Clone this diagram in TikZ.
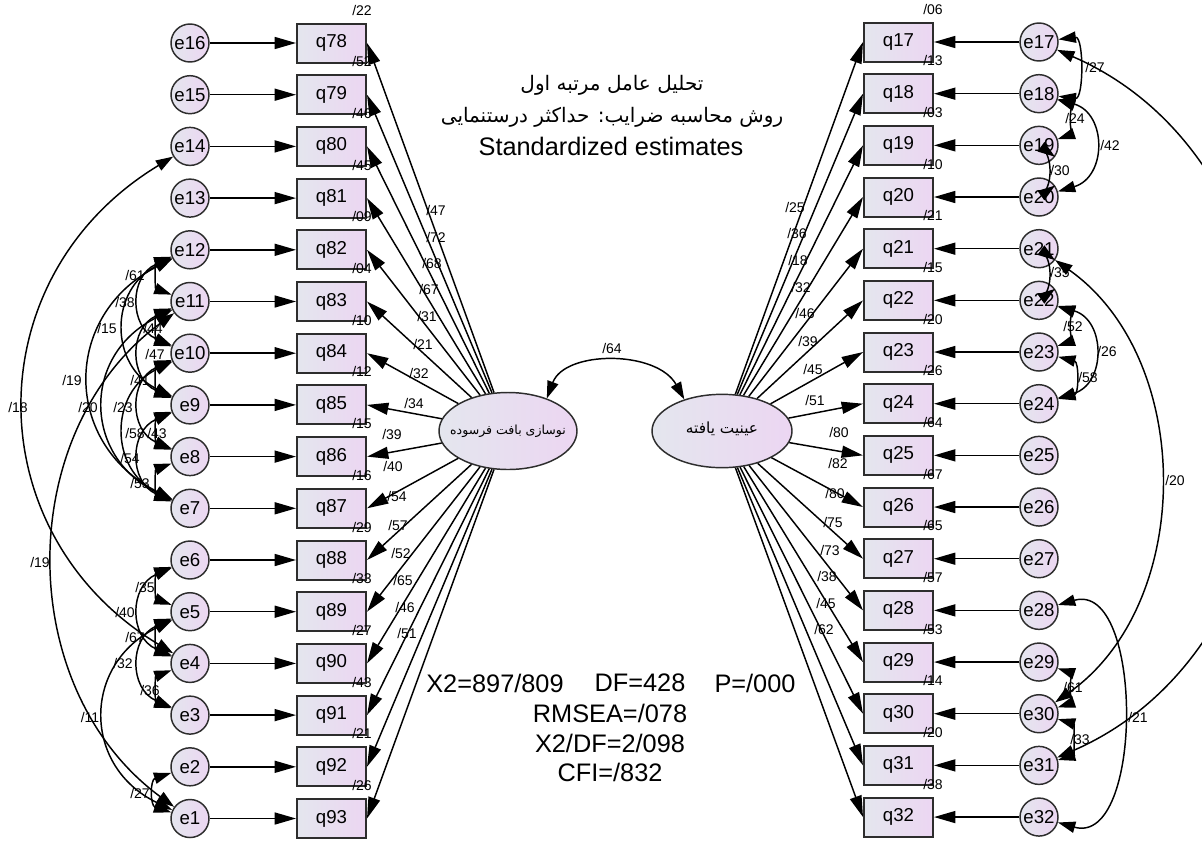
\documentclass[tikz,border=0pt]{standalone}
\usepackage{fontspec}
\setmainfont{Liberation Sans}
\newfontfamily\arabicfont[Script=Arabic]{DejaVu Sans}
\TeXXeTstate=1
\usetikzlibrary{arrows.meta,shapes.geometric,calc}
\definecolor{gL}{RGB}{228,230,238}
\definecolor{gR}{RGB}{236,214,242}
\definecolor{bord}{RGB}{45,45,45}
\tikzset{
 obs/.style={draw=bord, line width=1.5pt, rectangle, minimum width=51.75pt, minimum height=29.25pt, inner sep=0pt, left color=gL, right color=gR, font=\fontsize{14}{14}\selectfont},
 err/.style={draw=bord, line width=1.1pt, circle, minimum size=28.5pt, inner sep=0pt, left color=gL, right color=gR, font=\fontsize{14}{14}\selectfont},
 lat/.style={draw=bord, line width=1.1pt, ellipse, inner sep=0pt, left color=gL, right color=gR},
 lattext/.style={inner sep=0pt, font=\arabicfont},
 reg/.style={-{Triangle[length=16pt,width=9pt]}, line width=1.1pt},
 cov/.style={{Triangle[length=13pt,width=8.5pt]}-{Triangle[length=13pt,width=8.5pt]}, line width=1.1pt},
 lbl/.style={font=\fontsize{10.5}{10.5}\selectfont, inner sep=0pt},
 big/.style={font=\fontsize{19}{19}\selectfont, inner sep=0pt},
 ttl/.style={inner sep=0pt, font=\arabicfont\fontsize{15}{15}\selectfont},
}
\newcommand\lcov[4]{\draw[cov] (#1) .. controls ($(#1)+(-#3,#4)$) and ($(#2)+(-#3,-#4)$) .. (#2);}
\newcommand\rcov[5]{\draw[cov] (#1) .. controls ($(#1)+(#3,#4)$) and ($(#2)+(#3,#5)$) .. (#2);}
\begin{document}
\begin{tikzpicture}[x=0.75pt,y=-0.75pt]
\clip (0,0) rectangle (1202,854);
\fill[white] (0,0) rectangle (1202,854);
% left side
\foreach \i in {0,...,15} {
  \pgfmathtruncatemacro\qn{78+\i}
  \pgfmathtruncatemacro\en{16-\i}
  \pgfmathsetmacro\yy{43+51.7*\i}
  \node[obs] (q\qn) at (331.5,\yy) {q\qn};
  \node[err] (e\en) at (190,\yy) {e\en};
}
% right side
\foreach \i in {0,...,15} {
  \pgfmathtruncatemacro\qn{17+\i}
  \pgfmathsetmacro\yy{42+51.67*\i}
  \node[obs] (q\qn) at (898.5,\yy) {q\qn};
  \node[err] (e\qn) at (1039,\yy) {e\qn};
}
% latent variables
\node[lat, minimum width=103.5pt, minimum height=57.75pt] (L) at (508,431) {};
\node[lat, minimum width=105pt, minimum height=55pt] (R) at (722,431) {};
\node[lattext, font=\arabicfont\fontsize{9.4}{9.4}\selectfont] (Lt) at (508,431) {\beginR نوسازی بافت فرسوده\endR};
\node[lattext, font=\arabicfont\fontsize{11.5}{11.5}\selectfont] (Rt) at (722,429) {\beginR عینیت یافته\endR};
% error arrows and loadings
\foreach \i in {0,...,15} {
  \pgfmathtruncatemacro\qn{78+\i}
  \pgfmathtruncatemacro\en{16-\i}
  \draw[reg] (e\en) -- (q\qn);
  \draw[reg] (L) -- (q\qn.east);
}
\foreach \i in {17,...,32} {
  \draw[reg] (e\i) -- (q\i);
  \draw[reg] (R) -- (q\i.west);
}
% covariance of latents
\draw[cov] (L.40) .. controls (565,350) and (657,350) .. (R.140);
\node[lbl] (c64) at (612,348) {/64};
% left covariances
\lcov{e12}{e11}{35}{13}
\lcov{e11}{e10}{35}{13}
\lcov{e10}{e9}{35}{13}
\lcov{e9}{e8}{35}{13}
\lcov{e8}{e7}{35}{13}
\lcov{e12}{e10}{61}{26}
\lcov{e11}{e9}{61}{26}
\lcov{e10}{e8}{61}{26}
\lcov{e9}{e7}{61}{26}
\lcov{e12}{e9}{81}{39}
\lcov{e10}{e7}{81}{39}
\lcov{e11}{e7}{108}{52}
\lcov{e12}{e7}{128}{65}
\lcov{e6}{e5}{35}{13}
\lcov{e6}{e4}{61}{26}
\lcov{e5}{e4}{35}{13}
\lcov{e5}{e3}{61}{26}
\lcov{e4}{e3}{35}{13}
\lcov{e2}{e1}{40}{13}
\lcov{e5}{e1}{108}{52}
\lcov{e11}{e1}{177}{130}
\lcov{e14}{e4}{215}{130}
% right covariances
\rcov{e17}{e18}{45}{-6}{6}
\rcov{e18}{e19}{30}{10}{-10}
\rcov{e18}{e20}{68}{20}{-20}
\rcov{e19}{e20}{14}{10}{-10}
\rcov{e21}{e22}{14}{10}{-10}
\rcov{e22}{e23}{30}{10}{-10}
\rcov{e22}{e24}{67}{20}{-20}
\rcov{e23}{e24}{40}{10}{-10}
\rcov{e21}{e30}{156}{110}{-110}
\rcov{e17}{e31}{300}{130}{-130}
\rcov{e28}{e32}{105}{-30}{30}
\rcov{e29}{e30}{30}{10}{-10}
\rcov{e30}{e31}{35}{10}{-10}
% left loading labels
\foreach \t/\px/\py [count=\k] in {47/436/210,72/436/237,68/432/263,67/429/289,31/427/316,21/423/344,32/419/373,34/414/403,39/392/434,40/393/466,54/397/496,57/398/525,52/401/553,65/403/580,46/405/607,51/407/633}
  \node[lbl] (ll\k) at (\px,\py) {/\t};
% left R2 labels
\foreach \t [count=\k from 0] in {22,52,46,45,09,04,10,12,15,16,29,33,27,43,21,26}
  \node[lbl] (lr\k) at (362,{43+51.7*\k-33}) {/\t};
% right loading labels
\foreach \t/\px/\py [count=\k] in {25/795/207,36/797/233,18/798/260,32/801/287,46/805/313,39/808/341,45/813/369,51/815/400,80/839/432,82/838/463,80/835/493,75/833/522,73/830/550,38/827/576,45/826/603,62/824/629}
  \node[lbl] (rl\k) at (\px,\py) {/\t};
% right R2 labels
\foreach \t [count=\k from 0] in {06,13,03,10,21,15,20,26,64,67,65,57,53,14,20,38}
  \node[lbl] (rr\k) at (933,{42+51.67*\k-33}) {/\t};
% left covariance labels
\foreach \t/\px/\py [count=\k] in {61/135/275,38/125/302,15/107/328,44/153/328,47/155/354,41/140/380,19/72/380,20/88/407,23/123/407,58/135/433,43/157/433,54/130/458,53/140/483,18/18/407,19/40/562,35/145/587,40/125/612,67/135/637,32/123/663,36/150/690,11/90/717,27/140/793}
  \node[lbl] (lc\k) at (\px,\py) {/\t};
% right covariance labels
\foreach \t/\px/\py [count=\k] in {27/1095/67,24/1075/118,42/1110/145,30/1060/170,35/1060/272,52/1073/326,26/1107/351,58/1088/377,20/1175/480,21/1138/717,61/1073/687,33/1080/739}
  \node[lbl] (rc\k) at (\px,\py) {/\t};
% titles
\node[ttl] (t1) at (612,85) {\beginR تحلیل عامل مرتبه اول\endR};
\node[ttl] (t2) at (612,117) {\beginR روش محاسبه ضرایب: حداکثر درستنمایی\endR};
\node[big] (t3) at (611,146) {Standardized estimates};
% fit statistics
\node[big] (f1) at (495,683) {X2=897/809};
\node[big] (f2) at (640,683) {DF=428};
\node[big] (f3) at (755,683) {P=/000};
\node[big] (f4) at (610,713) {RMSEA=/078};
\node[big] (f5) at (610,743) {X2/DF=2/098};
\node[big] (f6) at (610,772) {CFI=/832};
\end{tikzpicture}
\end{document}
